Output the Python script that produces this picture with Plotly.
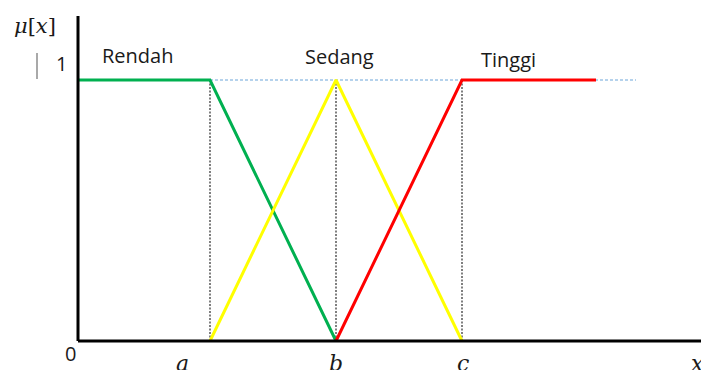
import plotly.graph_objects as go

# x positions of the breakpoints (x units = pixels of the source sketch)
A, B, C = 132, 258, 384
X_END = 518          # end of the "Tinggi" plateau
X_GUIDE = 558        # end of the dashed mu = 1 guide
X_AXIS_END = 623
Y_AXIS_TOP = 1.245

sets = ["Rendah", "Sedang", "Tinggi"]
set_x = [[0, A, B], [A, B, C], [B, C, X_END]]
set_y = [[1, 1, 0], [0, 1, 0], [0, 1, 1]]
set_colors = ["#00B050", "#FFFF00", "#FF0000"]

tick_names = ["a", "b", "c"]
tick_vals = [A, B, C]

W, H = 701, 370
X0, Y0, UNIT = 78, 341, 261   # origin pixel and pixels per mu unit


def px(xp, yp):
    # pixel position in the picture -> data coordinates
    return xp - X0, (Y0 - yp) / UNIT


fig = go.Figure()

# dotted drop lines at a, b, c
for v in tick_vals:
    fig.add_trace(go.Scatter(x=[v, v], y=[0, 1], mode="lines",
                             line=dict(color="#555555", width=1.5, dash="2px,1.5px"),
                             hoverinfo="skip"))

# dashed guide at mu = 1
fig.add_trace(go.Scatter(x=[A, X_GUIDE], y=[1, 1], mode="lines",
                         line=dict(color="#9DC3E6", width=1.5, dash="3px,2px"),
                         hoverinfo="skip"))

for name, xs, ys, col in zip(sets, set_x, set_y, set_colors):
    fig.add_trace(go.Scatter(x=xs, y=ys, mode="lines", name=name,
                             line=dict(color=col, width=3)))

# axes
fig.add_shape(type="line", x0=0, x1=0, y0=0, y1=Y_AXIS_TOP,
              line=dict(color="black", width=3))
fig.add_shape(type="line", x0=0, x1=X_AXIS_END, y0=0, y1=0,
              line=dict(color="black", width=3))
# little cursor bar next to the "1"
bx, by0 = px(37, 53)
_, by1 = px(37, 79)
fig.add_shape(type="line", x0=bx, x1=bx, y0=by0, y1=by1,
              line=dict(color="#8c8c8c", width=1.5))

sans = dict(family="Open Sans", size=20, color="#1a1a1a")
serif = dict(family="DejaVu Serif", size=22, color="#1a1a1a")

label_px = [(137, 55.5), (339, 56), (508, 59)]
for name, (lx, ly) in zip(sets, label_px):
    x, y = px(lx, ly)
    fig.add_annotation(x=x, y=y, text=name, showarrow=False, font=sans)

for text, (lx, ly) in [("1", (61, 63)), ("0", (70, 353))]:
    x, y = px(lx, ly)
    fig.add_annotation(x=x, y=y, text=text, showarrow=False, font=sans)

x, y = px(35, 26)
fig.add_annotation(x=x, y=y, text="<i>μ</i>[<i>x</i>]", showarrow=False,
                   font=dict(serif, size=21))

tick_label_px = [182, 336, 463]
for t, lx in zip(tick_names, tick_label_px):
    x, y = px(lx, 363)
    fig.add_annotation(x=x, y=y, text=f"<i>{t}</i>", showarrow=False, font=serif)
x, y = px(697, 363)
fig.add_annotation(x=x, y=y, text="<i>x</i>", showarrow=False, font=serif)

fig.update_layout(
    width=W, height=H,
    margin=dict(l=0, r=0, t=0, b=0),
    paper_bgcolor="white", plot_bgcolor="white",
    showlegend=False,
    xaxis=dict(range=[-X0, W - X0], visible=False),
    yaxis=dict(range=[(Y0 - H) / UNIT, Y0 / UNIT], visible=False),
)

# let the figure fill the window exactly (no default body margin)
fig.write_html("out.html",
               config={"displayModeBar": False},
               post_script="document.body.style.margin='0';"
                           "document.body.style.overflow='hidden';")
